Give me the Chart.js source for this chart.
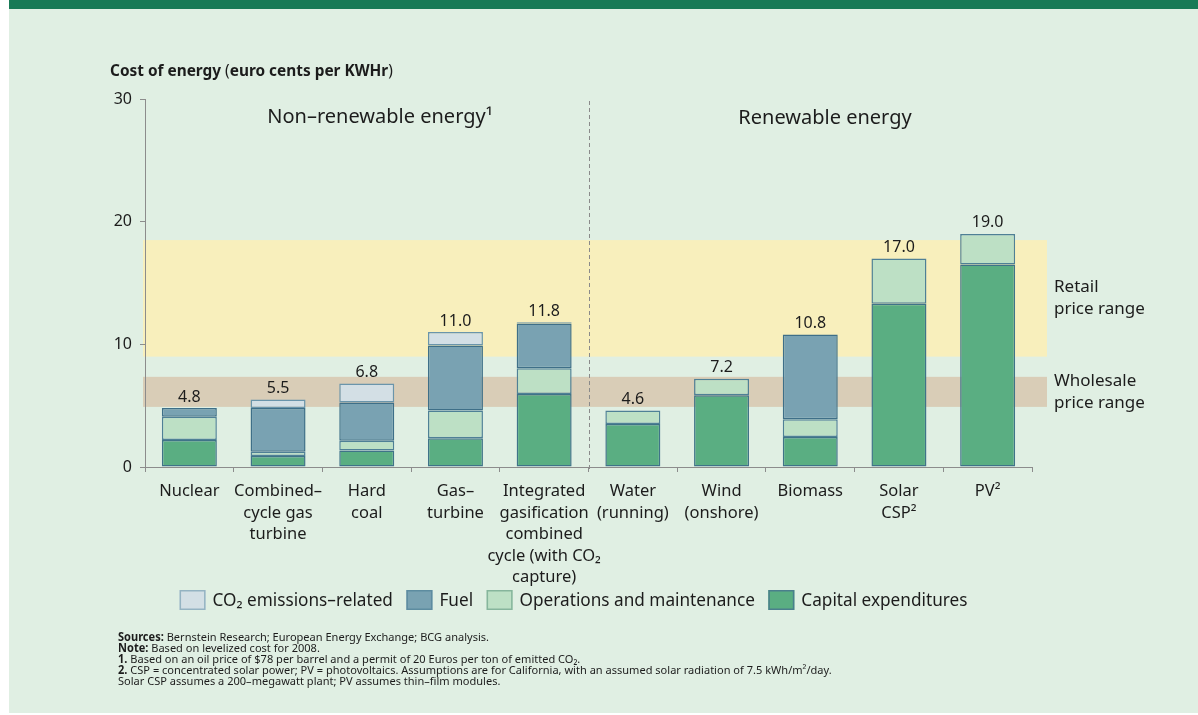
<!DOCTYPE html>
<html>
<head>
<meta charset="utf-8">
<script src="https://cdn.jsdelivr.net/npm/chart.js@4.4.1/dist/chart.umd.min.js"></script>
<style>
html, body { margin: 0; padding: 0; background: #fff; }
canvas { display: block; }
</style>
</head>
<body>
<canvas id="costChart" width="1198" height="715"></canvas>
<script>
// data (euro cents per KWHr)
const categories = [
    'Nuclear',
    ['Combined–', 'cycle gas', 'turbine'],
    ['Hard', 'coal'],
    ['Gas–', 'turbine'],
    ['Integrated', 'gasification', 'combined', 'cycle (with CO₂', 'capture)'],
    ['Water', '(running)'],
    ['Wind', '(onshore)'],
    'Biomass',
    ['Solar', 'CSP²'],
    'PV²'
];
const capex      = [2.2, 0.9, 1.35, 2.35, 5.95, 3.5, 5.85, 2.45, 13.3, 16.5];
const operations = [1.9, 0.35, 0.8, 2.25, 2.1, 1.1, 1.35, 1.45, 3.7, 2.5];
const fuel       = [0.7, 3.55, 3.1, 5.3, 3.65, null, null, 6.9, null, null];
const co2        = [null, 0.7, 1.55, 1.1, 0.1, null, null, null, null, null];
const totals     = [4.8, 5.5, 6.8, 11.0, 11.8, 4.6, 7.2, 10.8, 17.0, 19.0];
const yTicks     = [0, 10, 20, 30];
const retailRange    = [9.0, 18.5];
const wholesaleRange = [4.9, 7.35];

const FONT = '"Noto Sans", sans-serif';
const INK = '#1c1c1c';

const data = {
    labels: categories,
    datasets: [
        { label: 'Capital expenditures', data: capex, backgroundColor: '#5aae82', borderColor: '#3f7388', legendBorder: '#4a7f8c' },
        { label: 'Operations and maintenance', data: operations, backgroundColor: '#bde0c5', borderColor: '#4f8096', legendBorder: '#86b59c' },
        { label: 'Fuel', data: fuel, backgroundColor: '#79a2b2', borderColor: '#3e6f88', legendBorder: '#5d8ca0' },
        { label: 'CO₂ emissions–related', data: co2, backgroundColor: '#d3dfe5', borderColor: '#6a95ab', legendBorder: '#94b3c2' }
    ].map(d => Object.assign(d, {
        borderWidth: 1.5,
        borderSkipped: false,
        categoryPercentage: 1.0,
        barPercentage: 0.62
    }))
};

function drawRuns(ctx, runs, x, y, size) {
    // runs: [text, bold]
    let cx = x;
    runs.forEach(r => {
        ctx.font = (r[1] ? 'bold ' : '') + size + 'px ' + FONT;
        ctx.fillText(r[0], cx, y);
        cx += ctx.measureText(r[0]).width;
    });
}

const backdrop = {
    id: 'backdrop',
    beforeDraw(chart) {
        const ctx = chart.ctx;
        const y = chart.scales.y;
        const area = chart.chartArea;
        ctx.save();
        ctx.fillStyle = '#ffffff';
        ctx.fillRect(0, 0, chart.width, chart.height);
        ctx.fillStyle = '#e0efe3';
        ctx.fillRect(9, 0, chart.width - 9, 713);
        ctx.fillStyle = '#187a56';
        ctx.fillRect(9, 0, chart.width - 9, 9);

        // price range bands
        const bands = [[retailRange, '#f8efbc'], [wholesaleRange, '#d9cdb7']];
        bands.forEach(b => {
            const top = y.getPixelForValue(b[0][1]);
            const bot = y.getPixelForValue(b[0][0]);
            ctx.fillStyle = b[1];
            ctx.fillRect(area.left - 2, top, area.right - area.left + 17, bot - top);
        });

        // divider between non-renewable and renewable
        const xs = chart.scales.x;
        const dx = Math.round((xs.getPixelForValue(4) + xs.getPixelForValue(5)) / 2) + 0.5;
        ctx.strokeStyle = '#8a8a8a';
        ctx.lineWidth = 1;
        ctx.setLineDash([4, 3]);
        ctx.beginPath();
        ctx.moveTo(dx, area.top + 2);
        ctx.lineTo(dx, area.bottom + 4);
        ctx.stroke();
        ctx.restore();
    },
    afterDatasetsDraw(chart) {
        const ctx = chart.ctx;
        const xs = chart.scales.x, ys = chart.scales.y;
        ctx.save();
        ctx.fillStyle = INK;
        ctx.font = '16px ' + FONT;
        ctx.textAlign = 'center';
        ctx.textBaseline = 'bottom';
        totals.forEach((t, i) => {
            ctx.fillText(t.toFixed(1), xs.getPixelForValue(i), ys.getPixelForValue(t) - 3);
        });
        ctx.restore();
    },
    afterDraw(chart) {
        const ctx = chart.ctx;
        const area = chart.chartArea;
        const ys = chart.scales.y;
        ctx.save();
        ctx.fillStyle = INK;
        ctx.textBaseline = 'middle';

        // section headers
        ctx.textAlign = 'center';
        ctx.font = '20px ' + FONT;
        ctx.fillText('Non–renewable energy¹', area.left + 235, 117);
        ctx.fillText('Renewable energy', area.left + 680, 118);

        // band labels
        ctx.textAlign = 'left';
        ctx.font = '17px ' + FONT;
        const rc = (ys.getPixelForValue(retailRange[0]) + ys.getPixelForValue(retailRange[1])) / 2;
        const wc = (ys.getPixelForValue(wholesaleRange[0]) + ys.getPixelForValue(wholesaleRange[1])) / 2;
        ctx.fillText('Retail', area.right + 22, rc - 11);
        ctx.fillText('price range', area.right + 22, rc + 11);
        ctx.fillText('Wholesale', area.right + 22, wc - 11);
        ctx.fillText('price range', area.right + 22, wc + 11);

        // axis title
        ctx.textBaseline = 'alphabetic';
        drawRuns(ctx, [['Cost of energy ', true], ['(', false], ['euro cents per KWHr', true], [')', false]], 110, 76, 15.4);

        // legend, reversed so the top segment comes first
        const items = chart.data.datasets.slice().reverse();
        ctx.font = '17.2px ' + FONT;
        const boxW = 26, boxH = 20, gap = 7, spacing = 13.5;
        let total = 0;
        items.forEach((d, i) => {
            total += boxW + gap + ctx.measureText(d.label).width + (i < items.length - 1 ? spacing : 0);
        });
        let lx = 573.5 - total / 2;
        const ly = 600;
        ctx.textBaseline = 'middle';
        items.forEach(d => {
            ctx.fillStyle = d.backgroundColor;
            ctx.fillRect(lx, ly - boxH / 2, boxW, boxH);
            ctx.strokeStyle = d.legendBorder;
            ctx.lineWidth = 1.5;
            ctx.strokeRect(lx + 0.75, ly - boxH / 2 + 0.75, boxW - 1.5, boxH - 1.5);
            ctx.fillStyle = INK;
            ctx.fillText(d.label, lx + boxW + gap, ly + 1);
            lx += boxW + gap + ctx.measureText(d.label).width + spacing;
        });

        // footnotes, slightly condensed
        const notes = [
            [['Sources: ', true], ['Bernstein Research; European Energy Exchange; BCG analysis.', false]],
            [['Note: ', true], ['Based on levelized cost for 2008.', false]],
            [['1. ', true], ['Based on an oil price of $78 per barrel and a permit of 20 Euros per ton of emitted CO₂.', false]],
            [['2. ', true], ['CSP = concentrated solar power; PV = photovoltaics. Assumptions are for California, with an assumed solar radiation of 7.5 kWh/m²/day.', false]],
            [['Solar CSP assumes a 200–megawatt plant; PV assumes thin–film modules.', false]]
        ];
        ctx.textBaseline = 'alphabetic';
        ctx.fillStyle = INK;
        notes.forEach((runs, i) => {
            ctx.save();
            ctx.translate(118, 641 + i * 11);
            ctx.scale(0.96, 1);
            drawRuns(ctx, runs, 0, 0, 11.5);
            ctx.restore();
        });
        ctx.restore();
    }
};

const config = {
    type: 'bar',
    data,
    options: {
        responsive: false,
        animation: false,
        devicePixelRatio: 1,
        layout: { padding: { left: 0, right: 166, top: 99, bottom: 0 } },
        plugins: {
            legend: { display: false },
            tooltip: { enabled: false }
        },
        scales: {
            x: {
                stacked: true,
                grid: { offset: true, drawOnChartArea: false, drawTicks: true, tickLength: 5, color: '#8c8c8c' },
                border: { display: true, color: '#8c8c8c', width: 1 },
                ticks: {
                    autoSkip: false, maxRotation: 0, minRotation: 0, padding: 9,
                    color: INK, font: { family: FONT, size: 16.5, lineHeight: 1.3 }
                },
                afterFit: (scale) => { scale.height = 248; }
            },
            y: {
                stacked: true,
                min: 0,
                max: 30,
                afterBuildTicks: (scale) => { scale.ticks = yTicks.map(v => ({ value: v })); },
                grid: { drawOnChartArea: false, drawTicks: true, tickLength: 5, color: '#8c8c8c' },
                border: { display: true, color: '#8c8c8c', width: 1 },
                ticks: { padding: 8, color: INK, font: { family: FONT, size: 16 } },
                afterFit: (scale) => { scale.width = 145; }
            }
        }
    },
    plugins: [backdrop]
};

const myChart = new Chart(document.getElementById('costChart'), config);
</script>
</body>
</html>
